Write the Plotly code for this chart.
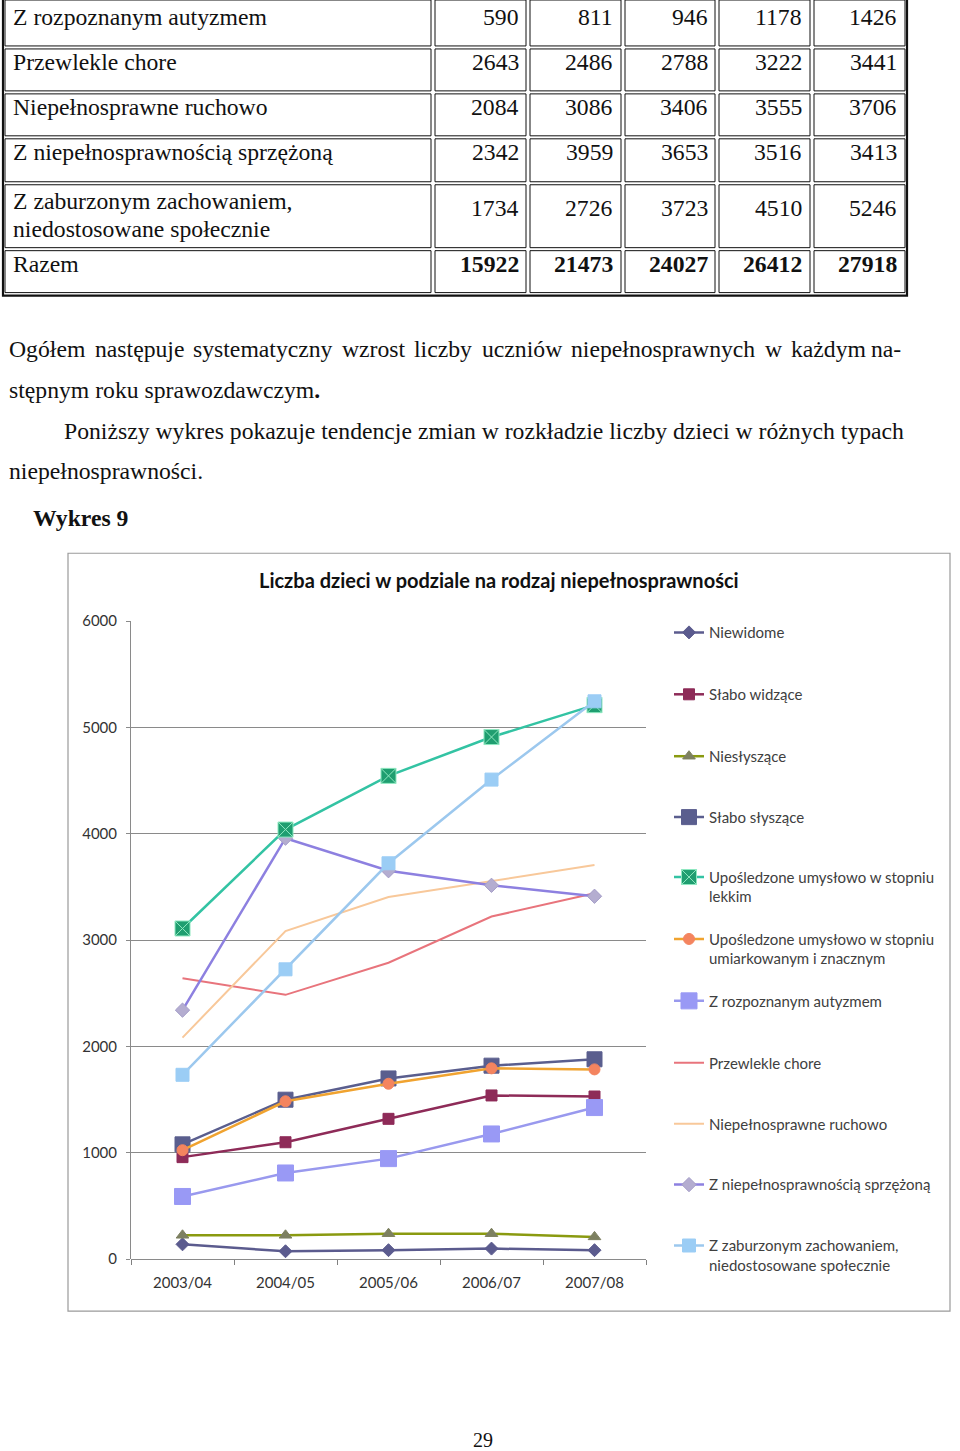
import plotly.graph_objects as go

W, H = 960, 1451

def X(px):
    return px / W

def Y(py):
    # calibrated vertical mapping of page pixels to paper coordinates
    return 1 - ((py - 8) / 0.989) / H

# ---------------- data ----------------
years = ["2003/04", "2004/05", "2005/06", "2006/07", "2007/08"]

niewidome = [140, 75, 85, 100, 85]
slabo_widzace = [960, 1100, 1320, 1540, 1530]
nieslyszace = [225, 225, 240, 240, 210]
slabo_slyszace = [1080, 1500, 1700, 1820, 1880]
uposl_lekkim = [3110, 4040, 4545, 4910, 5210]
uposl_umiark = [1025, 1485, 1650, 1795, 1785]
autyzm = [590, 811, 946, 1178, 1426]
przewlekle = [2643, 2486, 2788, 3222, 3441]
ruchowo = [2084, 3086, 3406, 3555, 3706]
sprzezona = [2342, 3959, 3653, 3516, 3413]
zaburzone = [1734, 2726, 3723, 4510, 5246]
razem = [15922, 21473, 24027, 26412, 27918]

table_labels = [
    ["Z rozpoznanym autyzmem"],
    ["Przewlekle chore"],
    ["Niepełnosprawne ruchowo"],
    ["Z niepełnosprawnością sprzężoną"],
    ["Z zaburzonym zachowaniem,", "niedostosowane społecznie"],
    ["Razem"],
]
table_values = [autyzm, przewlekle, ruchowo, sprzezona, zaburzone, razem]

series_names = [
    "Niewidome",
    "Słabo widzące",
    "Niesłyszące",
    "Słabo słyszące",
    "Upośledzone umysłowo w stopniu<br>lekkim",
    "Upośledzone umysłowo w stopniu<br>umiarkowanym i znacznym",
    "Z rozpoznanym autyzmem",
    "Przewlekle chore",
    "Niepełnosprawne ruchowo",
    "Z niepełnosprawnością sprzężoną",
    "Z zaburzonym zachowaniem,<br>niedostosowane społecznie",
]
series_values = [niewidome, slabo_widzace, nieslyszace, slabo_slyszace,
                 uposl_lekkim, uposl_umiark, autyzm, przewlekle, ruchowo,
                 sprzezona, zaburzone]

# ---------------- styles ----------------
styles = [
    dict(line="#5B5B8E", width=2.5, symbol="diamond", size=10, mcolor="#5B5B8E", mline="#5B5B8E"),
    dict(line="#8E2B58", width=2.5, symbol="square", size=11, mcolor="#8E2B58", mline="#8E2B58"),
    dict(line="#8A9A10", width=2.5, symbol="triangle-up", size=11, mcolor="#7D8060", mline="#7D8060"),
    dict(line="#5A5E8E", width=2.5, symbol="square", size=15, mcolor="#5A5E8E", mline="#5A5E8E"),
    dict(line="#33C3A3", width=2.5, symbol="square-x", size=15, mcolor="#1F9E70", mline="#8FE8C0"),
    dict(line="#F0A330", width=2.5, symbol="circle", size=11, mcolor="#F4845F", mline="#F4845F"),
    dict(line="#9999EE", width=2.5, symbol="square", size=16, mcolor="#9999F5", mline="#9999F5"),
    dict(line="#E8747C", width=2, symbol=None),
    dict(line="#F8C89A", width=2, symbol=None),
    dict(line="#8D80E0", width=2.5, symbol="diamond", size=11, mcolor="#B4ADD0", mline="#A49DC8"),
    dict(line="#9CC8EE", width=2.5, symbol="square", size=13, mcolor="#9BCDF5", mline="#9BCDF5"),
]

legend_centers = [632, 694, 756, 817, 877, 939, 1001, 1063, 1124, 1185, 1246]

draw_order = [7, 8, 0, 2, 1, 6, 3, 5, 9, 4, 10]

fig = go.Figure()
traces = {}
for i in range(len(series_names)):
    st = styles[i]
    kw = dict(
        x=years, y=series_values[i], name=series_names[i],
        line=dict(color=st["line"], width=st["width"]),
        legend="legend" if i == 0 else f"legend{i + 1}",
        showlegend=True,
    )
    if st["symbol"]:
        kw["mode"] = "lines+markers"
        kw["marker"] = dict(symbol=st["symbol"], size=st["size"], color=st["mcolor"],
                            line=dict(color=st["mline"], width=1))
    else:
        kw["mode"] = "lines"
    traces[i] = go.Scatter(**kw)

for i in draw_order:
    fig.add_trace(traces[i])

layout_legends = {}
for i, c in enumerate(legend_centers):
    key = "legend" if i == 0 else f"legend{i + 1}"
    layout_legends[key] = dict(
        x=X(669), y=Y(c - 17), xanchor="left", yanchor="top",
        bgcolor="rgba(0,0,0,0)", borderwidth=0,
        font=dict(family="Lato", size=15, color="#404040"),
        itemwidth=30, valign="top", tracegroupgap=0,
    )

shapes = []
annotations = []

SERIF_DY = -2.5

def note(text, x, y, xanchor="left", family="Liberation Serif", size=23.7, color="#111111"):
    dy = SERIF_DY if family == "Liberation Serif" else -2
    annotations.append(dict(text=text, x=X(x), y=Y(y + dy), xref="paper", yref="paper",
                            xanchor=xanchor, yanchor="middle", showarrow=False,
                            font=dict(family=family, size=size, color=color)))

# ---------------- table ----------------
col_edges = [(5, 431), (435, 526), (530, 621), (625, 715), (719, 810), (814, 905)]
row_edges = [(-2, 44), (47, 89), (92, 134), (137, 180), (183, 246), (249, 291)]
for (y0, y1) in row_edges:
    for (x0, x1) in col_edges:
        shapes.append(dict(type="rect", xref="paper", yref="paper",
                           x0=X(x0), x1=X(x1), y0=Y(y0), y1=Y(y1),
                           line=dict(color="#111111", width=1)))
shapes.append(dict(type="rect", xref="paper", yref="paper",
                   x0=X(3), x1=X(907), y0=Y(-3), y1=Y(294),
                   line=dict(color="#111111", width=2.2)))

row_text_y = [18, 63, 108, 153, 209, 265]
num_right = [521, 615, 710, 804, 899]
for r, labels in enumerate(table_labels):
    bold = (r == len(table_labels) - 1)
    if len(labels) == 1:
        note(labels[0], 11, row_text_y[r])
    else:
        for k, lab in enumerate(labels):
            note(lab, 11, [202, 230][k])
    for c, v in enumerate(table_values[r]):
        t = f"<b>{v}</b>" if bold else str(v)
        note(t, num_right[c], row_text_y[r], xanchor="right")

# ---------------- body text ----------------
line1_words = ["Ogółem", "następuje", "systematyczny", "wzrost", "liczby",
               "uczniów", "niepełnosprawnych", "w", "każdym", "na-"]
line1_x = [7, 92.6, 191.3, 340, 412.4, 479.5, 569, 762.5, 788.8, 903]
for k, w in enumerate(line1_words):
    last = k == len(line1_words) - 1
    note(w, line1_x[k], 350, xanchor="right" if last else "left")
note("stępnym roku sprawozdawczym<b>.</b>", 7, 391)
note("Poniższy wykres pokazuje tendencje zmian w rozkładzie liczby dzieci w różnych typach", 62, 432)
note("niepełnosprawności.", 7, 472)
note("<b>Wykres 9</b>", 31, 519)
note("29", 483, 1443, xanchor="center", size=20)

# chart frame and title
shapes.append(dict(type="rect", xref="paper", yref="paper",
                   x0=X(68), x1=X(950), y0=Y(552), y1=Y(1311),
                   line=dict(color="#9A9A9A", width=1.2), layer="below"))
note("<b>Liczba dzieci w podziale na rodzaj niepełnosprawności</b>", 499, 581,
     xanchor="center", family="Lato", size=20)

fig.update_layout(
    width=W, height=H,
    margin=dict(l=0, r=0, t=0, b=0),
    paper_bgcolor="white", plot_bgcolor="white",
    shapes=shapes, annotations=annotations,
    xaxis=dict(domain=[X(131), X(646)], range=[-0.5, 4.5], type="category",
               showgrid=False, showline=False, zeroline=False,
               ticks="outside", tickson="boundaries", ticklen=5, tickcolor="#808080",
               tickfont=dict(family="Lato", size=15, color="#333333"),
               ticklabelstandoff=13),
    yaxis=dict(domain=[Y(1259), Y(620)], range=[0, 6000], tickvals=[0, 1000, 2000, 3000, 4000, 5000, 6000],
               showgrid=True, gridcolor="#8A8A8A", gridwidth=1,
               showline=True, linecolor="#8A8A8A", linewidth=1,
               zeroline=True, zerolinecolor="#8A8A8A", zerolinewidth=1,
               ticks="outside", ticklen=4, tickcolor="#8A8A8A",
               tickfont=dict(family="Lato", size=15, color="#333333"),
               ticklabelstandoff=6),
    **layout_legends,
)

fig.write_html("out.html")
